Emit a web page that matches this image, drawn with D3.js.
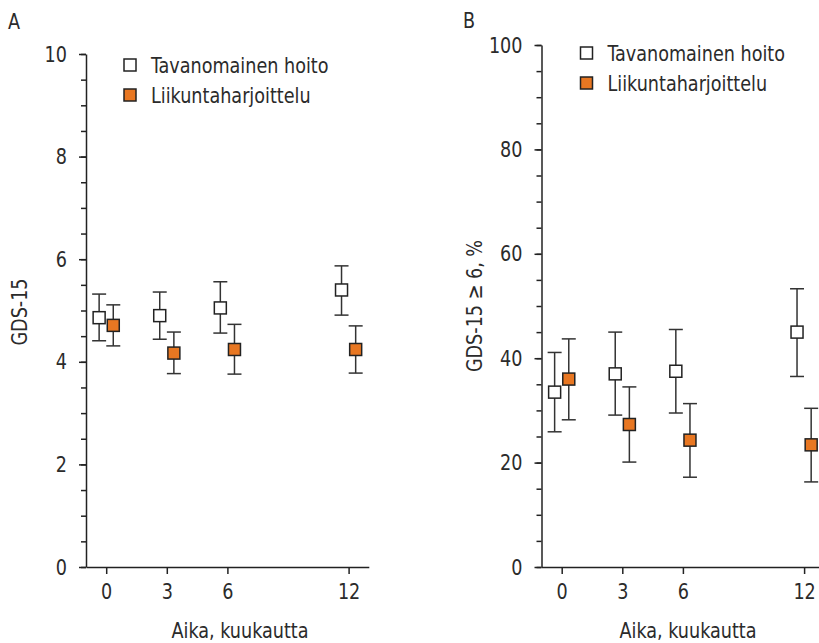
<!DOCTYPE html>
<html lang="fi">
<head>
<meta charset="UTF-8">
<title>GDS-15</title>
<script src="https://cdn.jsdelivr.net/npm/d3@7"></script>
<style>
  body { margin: 0; background: #fff; }
  svg text { font-family: "DejaVu Sans Condensed", "Liberation Sans Narrow", "Roboto", sans-serif; fill: #2b2b2b; }
  .axis path, .axis line { stroke: #222; stroke-width: 1.5px; }
</style>
</head>
<body>
<svg id="chart" width="819" height="643"></svg>
<script>
// data
const months = [0, 3, 6, 12];
const seriesNames = ['Tavanomainen hoito', 'Liikuntaharjoittelu'];

// panel A: GDS-15 mean with 95% CI
const tavA = [4.86, 4.90, 5.05, 5.40];
const tavALo = [4.41, 4.44, 4.56, 4.91];
const tavAHi = [5.32, 5.36, 5.56, 5.87];
const liiA = [4.71, 4.17, 4.24, 4.24];
const liiALo = [4.31, 3.77, 3.76, 3.78];
const liiAHi = [5.11, 4.58, 4.73, 4.70];

// panel B: GDS-15 >= 6, %
const tavB = [33.5, 37.0, 37.5, 45.0];
const tavBLo = [25.9, 29.1, 29.5, 36.5];
const tavBHi = [41.1, 45.0, 45.5, 53.3];
const liiB = [36.0, 27.3, 24.3, 23.4];
const liiBLo = [28.2, 20.1, 17.2, 16.3];
const liiBHi = [43.7, 34.5, 31.3, 30.4];

const yTicksA = [0, 2, 4, 6, 8, 10];
const yTicksB = [0, 20, 40, 60, 80, 100];

const svg = d3.select('#chart');
const orange = '#e87722';
const FS = 22;
const SX = 0.89; // the original font is narrower than anything installed

// squeeze text horizontally around its own anchor point
function condense(sel, extra) {
  sel.each(function () {
    const t = d3.select(this);
    const x = +t.attr('x') || 0;
    const y = +t.attr('y') || 0;
    t.attr('x', 0).attr('y', 0)
      .attr('transform', `translate(${x},${y}) ${extra || ''} scale(${SX},1)`);
  });
}

function panel(opts) {
  const x = d3.scaleLinear().domain([-1, 13]).range([opts.left, opts.left + 282.8]);
  const y = d3.scaleLinear().domain(opts.yDomain).range([567, opts.top]);
  const g = svg.append('g');

  // minor ticks
  g.append('g').attr('class', 'axis')
    .attr('transform', `translate(${opts.left},0)`)
    .call(d3.axisLeft(y).tickValues(d3.range(opts.yDomain[0], opts.yDomain[1] + 0.001, opts.minor))
      .tickSize(5).tickFormat(''))
    .call(a => a.select('.domain').remove());

  // major y axis
  g.append('g').attr('class', 'axis')
    .attr('transform', `translate(${opts.left},0)`)
    .call(d3.axisLeft(y).tickValues(opts.yTicks).tickSize(7).tickSizeOuter(0).tickPadding(12))
    .call(a => a.selectAll('text').style('font-size', FS + 'px').call(condense));

  // x axis
  g.append('g').attr('class', 'axis')
    .attr('transform', 'translate(0,567)')
    .call(d3.axisBottom(x).tickValues(months).tickSize(7).tickSizeOuter(0).tickPadding(9))
    .call(a => a.selectAll('text').style('font-size', FS + 'px').call(condense));

  g.selectAll('.axis text').attr('fill', '#2b2b2b').style('fill', '#2b2b2b');

  const series = [
    { v: opts.tav, lo: opts.tavLo, hi: opts.tavHi, dx: -0.35, fill: '#fff' },
    { v: opts.lii, lo: opts.liiLo, hi: opts.liiHi, dx: 0.35, fill: orange }
  ];

  series.forEach(s => {
    const pts = months.map((m, i) => ({ m: m + s.dx, v: s.v[i], lo: s.lo[i], hi: s.hi[i] }));
    const eb = g.append('g').attr('stroke', '#333').attr('stroke-width', 1.5);
    eb.selectAll('line.v').data(pts).enter().append('line')
      .attr('x1', d => x(d.m)).attr('x2', d => x(d.m))
      .attr('y1', d => y(d.lo)).attr('y2', d => y(d.hi));
    eb.selectAll('line.lo').data(pts).enter().append('line')
      .attr('x1', d => x(d.m) - 7).attr('x2', d => x(d.m) + 7)
      .attr('y1', d => y(d.lo)).attr('y2', d => y(d.lo));
    eb.selectAll('line.hi').data(pts).enter().append('line')
      .attr('x1', d => x(d.m) - 7).attr('x2', d => x(d.m) + 7)
      .attr('y1', d => y(d.hi)).attr('y2', d => y(d.hi));
    g.selectAll(null).data(pts).enter().append('rect')
      .attr('x', d => x(d.m) - 6).attr('y', d => y(d.v) - 6)
      .attr('width', 12).attr('height', 12)
      .attr('fill', s.fill).attr('stroke', '#222').attr('stroke-width', 1.5);
  });

  // legend
  seriesNames.forEach((name, i) => {
    const ly = opts.legY + i * 30;
    g.append('rect').attr('x', opts.legX).attr('y', ly)
      .attr('width', 12).attr('height', 12)
      .attr('fill', i === 0 ? '#fff' : orange).attr('stroke', '#222').attr('stroke-width', 1.5);
    g.append('text').attr('x', opts.legX + 27).attr('y', ly + 14)
      .style('font-size', FS + 'px').text(name).call(condense);
  });

  // titles
  g.append('text').attr('x', opts.letterX).attr('y', opts.letterY)
    .style('font-size', FS + 'px').text(opts.letter).call(condense);
  g.append('text').attr('x', opts.yTitleX).attr('y', opts.yTitleY)
    .attr('text-anchor', 'middle').style('font-size', FS + 'px').text(opts.yTitle)
    .call(condense, 'rotate(-90)');
  g.append('text').attr('x', opts.xTitleX).attr('y', 638)
    .attr('text-anchor', 'middle').style('font-size', FS + 'px').text('Aika, kuukautta')
    .call(condense);
}

panel({
  left: 86, top: 54, yDomain: [0, 10], minor: 0.5, yTicks: yTicksA,
  tav: tavA, tavLo: tavALo, tavHi: tavAHi, lii: liiA, liiLo: liiALo, liiHi: liiAHi,
  legX: 124, legY: 59, letter: 'A', letterX: 8, letterY: 29,
  yTitle: 'GDS-15', yTitleX: 27, yTitleY: 312, xTitleX: 240
});

panel({
  left: 541.5, top: 45, yDomain: [0, 100], minor: 5, yTicks: yTicksB,
  tav: tavB, tavLo: tavBLo, tavHi: tavBHi, lii: liiB, liiLo: liiBLo, liiHi: liiBHi,
  legX: 580.5, legY: 47, letter: 'B', letterX: 463, letterY: 28,
  yTitle: 'GDS-15 \u2265 6, %', yTitleX: 482, yTitleY: 306, xTitleX: 688
});
</script>
</body>
</html>
